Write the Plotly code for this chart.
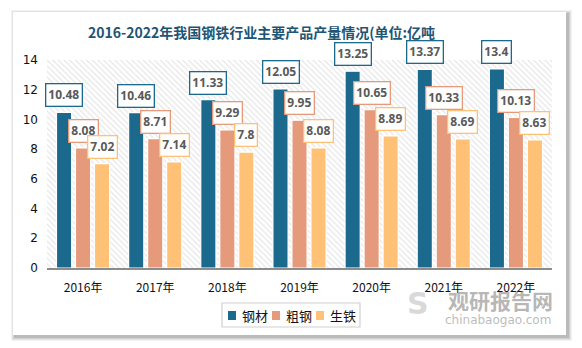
import plotly.graph_objects as go

categories = ["2016年", "2017年", "2018年", "2019年", "2020年", "2021年", "2022年"]
series_names = ["钢材", "粗钢", "生铁"]
gangcai = [10.48, 10.46, 11.33, 12.05, 13.25, 13.37, 13.4]
cugang = [8.08, 8.71, 9.29, 9.95, 10.65, 10.33, 10.13]
shengtie = [7.02, 7.14, 7.8, 8.08, 8.89, 8.69, 8.63]
y_ticks = [0, 2, 4, 6, 8, 10, 12, 14]
title_text = "2016-2022年我国钢铁行业主要产品产量情况(单位:亿吨"

colors = ["#1B6A8E", "#E59A7C", "#FFC176"]
series = [gangcai, cugang, shengtie]

W, H = 582, 348
L, R, T, B = 47, 30, 60, 80
pw, ph = W - L - R, H - T - B
bargap, bargroupgap = 0.21, 0.2
slot = (1 - bargap) / 3
xs = list(range(len(categories)))

def px(x):
    return (x - L) / pw

def py(y):
    return (H - B - y) / ph

fig = go.Figure()

# hatched plot background on base axes
fig.add_trace(go.Scatter(
    x=[0, 1, 1, 0, 0], y=[0, 0, 1, 1, 0], mode="lines", fill="toself",
    line=dict(width=0, color="rgba(0,0,0,0)"),
    fillcolor="white",
    fillpattern=dict(shape="\\", fgcolor="#CDCDCD", bgcolor="#FFFFFF", size=4, solidity=0.3),
    hoverinfo="skip", showlegend=False, xaxis="x", yaxis="y"))

for name, vals, col in zip(series_names, series, colors):
    fig.add_trace(go.Bar(
        x=xs, y=vals, name=name, marker=dict(color=col, line=dict(color="white", width=1.2)),
        xaxis="x2", yaxis="y2", showlegend=False))

annotations = []
for k, (vals, col) in enumerate(zip(series, colors)):
    for i, v in enumerate(vals):
        annotations.append(dict(
            x=xs[i] + (k - 1) * slot, y=v, xref="x2", yref="y2",
            text=f"<b>{v:g}</b>", showarrow=False, yanchor="bottom", yshift=5,
            font=dict(size=12, color="#595959", family="Open Sans, DejaVu Sans"),
            bgcolor="white", bordercolor=col, borderwidth=1.3, borderpad=2))

annotations.append(dict(
    x=px(261), y=py(32), xref="paper", yref="paper", text=f"<b>{title_text}</b>",
    showarrow=False, font=dict(size=14, color="#1E5573", family="Noto Sans CJK SC"),
    xanchor="center", yanchor="middle"))
annotations.append(dict(
    x=px(500), y=py(300), xref="paper", yref="paper", text="<b>观研报告网</b>",
    showarrow=False, font=dict(size=21, color="rgba(120,120,120,0.55)", family="Noto Sans CJK SC"),
    xanchor="center", yanchor="middle"))
annotations.append(dict(
    x=px(498), y=py(320), xref="paper", yref="paper", text="chinabaogao.com",
    showarrow=False, font=dict(size=12, color="rgba(140,140,140,0.6)", family="DejaVu Sans"),
    xanchor="center", yanchor="middle"))
annotations.append(dict(
    x=px(418), y=py(303), xref="paper", yref="paper", text="<b>S</b>",
    showarrow=False, font=dict(size=30, color="rgba(170,170,170,0.45)", family="DejaVu Sans"),
    xanchor="center", yanchor="middle"))

shapes = []
# card shadow
for i, op in enumerate([0.05, 0.06, 0.08, 0.1]):
    d = 4 - i
    shapes.append(dict(type="rect", xref="paper", yref="paper", layer="below",
                       x0=px(13 - d + 2), x1=px(566 + d + 2), y0=py(12 - d + 2), y1=py(335 + d + 2),
                       fillcolor=f"rgba(0,0,0,{op})", line=dict(width=0)))
shapes.append(dict(type="rect", xref="paper", yref="paper", layer="below",
                   x0=px(13), x1=px(566), y0=py(12), y1=py(335),
                   fillcolor="white", line=dict(width=0)))

# legend box
leg_x0, leg_x1, leg_y0, leg_y1 = 222, 360, 303, 327
shapes.append(dict(type="rect", xref="paper", yref="paper",
                   x0=px(leg_x0), x1=px(leg_x1), y0=py(leg_y0), y1=py(leg_y1),
                   fillcolor="white", line=dict(color="#D0D0D0", width=1.2)))
leg_step = 44
leg_cy = 315.5
for k, (name, col) in enumerate(zip(series_names, colors)):
    sx = 228 + k * leg_step
    shapes.append(dict(type="rect", xref="paper", yref="paper",
                       x0=px(sx), x1=px(sx + 8), y0=py(leg_cy - 4.5), y1=py(leg_cy + 4.5),
                       fillcolor=col, line=dict(width=0)))
    annotations.append(dict(
        x=px(sx + 12), y=py(leg_cy), xref="paper", yref="paper", text=name,
        showarrow=False, xanchor="left", yanchor="middle",
        font=dict(size=13, color="#111", family="Noto Sans CJK SC")))

fig.update_layout(
    width=W, height=H, margin=dict(l=L, r=R, t=T, b=B),
    paper_bgcolor="white", plot_bgcolor="rgba(0,0,0,0)",
    barmode="group", bargap=bargap, bargroupgap=bargroupgap,
    font=dict(family="Noto Sans CJK SC", color="#222"),
    xaxis=dict(range=[0, 1], visible=False, fixedrange=True),
    yaxis=dict(range=[0, 1], visible=False, fixedrange=True),
    xaxis2=dict(overlaying="x", range=[-0.5, len(categories) - 0.5], tickvals=xs, ticktext=categories,
                showgrid=False, zeroline=False, showline=True, linecolor="#8C8C8C", linewidth=1.5,
                ticks="", tickfont=dict(size=12, color="#111", family="Noto Sans CJK SC"), ticklabelstandoff=8),
    yaxis2=dict(overlaying="y", range=[0, 14], tickvals=y_ticks, showgrid=False, zeroline=False,
                showline=False, ticks="", tickfont=dict(size=12, color="#111", family="DejaVu Sans"),
                ticklabelstandoff=8),
    annotations=annotations, shapes=shapes, showlegend=False,
)

fig.write_html("out.html")
